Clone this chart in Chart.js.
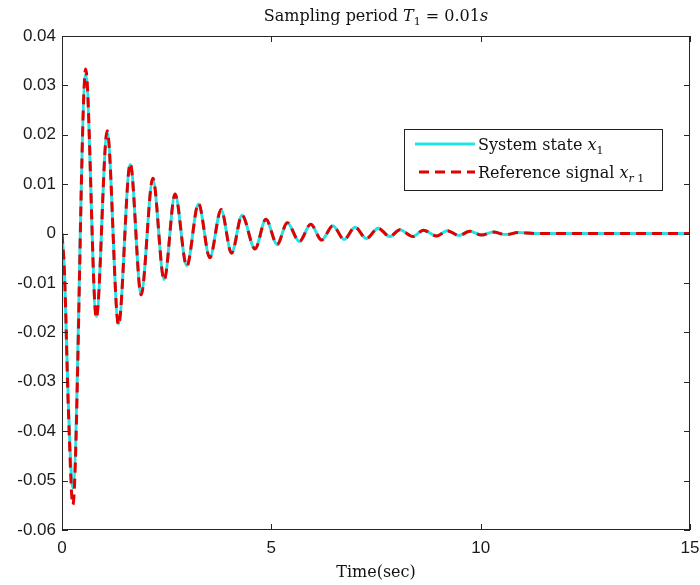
<!DOCTYPE html>
<html>
<head>
<meta charset="utf-8">
<script src="https://cdn.jsdelivr.net/npm/chart.js@4"></script>
<style>
  body { margin: 0; background: #fff; }
  #wrap { width: 700px; height: 585px; }
</style>
</head>
<body>
<div id="wrap"><canvas id="simChart" width="700" height="585"></canvas></div>
<script>
// values (peaks / troughs of the response)
const timeValues = [0, 0.06, 0.15, 0.26, 0.566, 0.82, 1.08, 1.35, 1.63, 1.89, 2.17, 2.44, 2.70, 2.98, 3.26, 3.53, 3.80, 4.05, 4.30, 4.61, 4.87, 5.14, 5.38, 5.67, 5.94, 6.20, 6.47, 6.74, 7.00, 7.27, 7.55, 7.83, 8.07, 8.38, 8.63, 8.95, 9.20, 9.48, 9.74, 10.02, 10.30, 10.60, 10.90, 11.3, 12, 13, 14, 15];
const stateValues = [0, -0.008, -0.034, -0.0515, 0.0322, -0.0168, 0.0204, -0.0182, 0.0140, -0.0122, 0.0110, -0.0093, 0.0079, -0.0065, 0.0060, -0.0048, 0.0048, -0.0039, 0.0037, -0.0031, 0.0029, -0.0022, 0.0022, -0.0016, 0.0019, -0.0013, 0.0016, -0.0012, 0.0013, -0.0010, 0.0011, -0.0006, 0.0008, -0.0006, 0.0007, -0.0005, 0.0006, -0.0004, 0.0005, -0.0003, 0.0003, -0.0002, 0.0002, 0, 0, 0, 0, 0];
const refValues = [0, -0.008, -0.035, -0.0549, 0.0333, -0.0171, 0.0208, -0.0185, 0.0142, -0.0124, 0.0112, -0.0094, 0.0080, -0.0066, 0.0061, -0.0049, 0.0049, -0.0040, 0.0037, -0.0031, 0.0029, -0.0022, 0.0022, -0.0016, 0.0019, -0.0013, 0.0016, -0.0012, 0.0013, -0.0010, 0.0011, -0.0006, 0.0008, -0.0006, 0.0007, -0.0005, 0.0006, -0.0004, 0.0005, -0.0003, 0.0003, -0.0002, 0.0002, 0, 0, 0, 0, 0];

const xTicks = [0, 5, 10, 15];
const yTicks = [0.04, 0.03, 0.02, 0.01, 0, -0.01, -0.02, -0.03, -0.04, -0.05, -0.06];
const yTickLabels = ['0.04', '0.03', '0.02', '0.01', '0', '-0.01', '-0.02', '-0.03', '-0.04', '-0.05', '-0.06'];

const cyan = '#22e3e6';
const red = '#e30000';
const serif = '"DejaVu Serif", "Liberation Serif", serif';
const sans = '"Liberation Sans", Arial, sans-serif';

// draw runs of text: [text, style, size, yOffset]
function drawRuns(ctx, runs, x, y) {
    let cx = x;
    runs.forEach(r => {
        ctx.font = (r[1] || '') + ' ' + r[2] + 'px ' + serif;
        ctx.fillText(r[0], cx, y + (r[3] || 0));
        cx += ctx.measureText(r[0]).width;
    });
    return cx - x;
}
function runsWidth(ctx, runs) {
    let w = 0;
    runs.forEach(r => {
        ctx.font = (r[1] || '') + ' ' + r[2] + 'px ' + serif;
        w += ctx.measureText(r[0]).width;
    });
    return w;
}

const matlabFrame = {
    id: 'matlabFrame',
    afterDraw(chart) {
        const ctx = chart.ctx;
        const a = chart.chartArea;
        const xs = chart.scales.x, ys = chart.scales.y;
        ctx.save();
        ctx.strokeStyle = '#262626';
        ctx.lineWidth = 1;
        ctx.strokeRect(Math.round(a.left) + 0.5, Math.round(a.top) + 0.5, Math.round(a.right - a.left) - 1, Math.round(a.bottom - a.top) - 1);
        // inward ticks
        ctx.beginPath();
        const tl = 6;
        xTicks.forEach(v => {
            const px = Math.round(xs.getPixelForValue(v)) + 0.5;
            ctx.moveTo(px, a.bottom); ctx.lineTo(px, a.bottom - tl);
            ctx.moveTo(px, a.top); ctx.lineTo(px, a.top + tl);
        });
        yTicks.forEach(v => {
            const py = Math.round(ys.getPixelForValue(v)) + 0.5;
            ctx.moveTo(a.left, py); ctx.lineTo(a.left + tl, py);
            ctx.moveTo(a.right, py); ctx.lineTo(a.right - tl, py);
        });
        ctx.stroke();

        // title
        ctx.fillStyle = '#111';
        ctx.textBaseline = 'alphabetic';
        ctx.textAlign = 'left';
        const title = [['Sampling period ', '', 16], ['T', 'italic', 16], ['1', '', 11, 4], [' = 0.01', '', 16], ['s', 'italic', 16]];
        const tw = runsWidth(ctx, title);
        drawRuns(ctx, title, (a.left + a.right) / 2 - tw / 2, 21);

        // legend box
        const bx = a.right - 286, by = 129, bw = 258, bh = 61;
        ctx.fillStyle = '#fff';
        ctx.fillRect(bx, by, bw, bh);
        ctx.strokeStyle = '#222';
        ctx.strokeRect(bx + 0.5, by + 0.5, bw, bh);
        ctx.lineWidth = 3;
        ctx.strokeStyle = cyan;
        ctx.beginPath(); ctx.moveTo(bx + 11, by + 15); ctx.lineTo(bx + 71, by + 15); ctx.stroke();
        ctx.strokeStyle = red;
        ctx.setLineDash([10, 6]);
        ctx.beginPath(); ctx.moveTo(bx + 15, by + 43); ctx.lineTo(bx + 71, by + 43); ctx.stroke();
        ctx.setLineDash([]);
        ctx.fillStyle = '#111';
        drawRuns(ctx, [['System state ', '', 16], ['x', 'italic', 16], ['1', '', 11, 4]], bx + 74, by + 21);
        drawRuns(ctx, [['Reference signal ', '', 16], ['x', 'italic', 16], ['r', 'italic', 11, 4], [' 1', '', 11, 4]], bx + 74, by + 49);
        ctx.restore();
    }
};

new Chart(document.getElementById('simChart'), {
    type: 'line',
    data: {
        datasets: [
            {
                label: 'System state x1',
                data: timeValues.map((t, i) => ({ x: t, y: stateValues[i] })),
                borderColor: cyan,
                borderWidth: 3,
                pointRadius: 0,
                cubicInterpolationMode: 'monotone',
                order: 1
            },
            {
                label: 'Reference signal xr1',
                data: timeValues.map((t, i) => ({ x: t, y: refValues[i] })),
                borderColor: red,
                borderWidth: 3,
                borderDash: [10, 6],
                pointRadius: 0,
                cubicInterpolationMode: 'monotone',
                order: 0
            }
        ]
    },
    options: {
        responsive: false,
        animation: false,
        layout: { padding: { top: 36, right: 0, left: 0, bottom: 0 } },
        scales: {
            x: {
                type: 'linear',
                min: 0,
                max: 15,
                afterBuildTicks: s => { s.ticks = xTicks.map(v => ({ value: v })); },
                afterFit: s => { s.height = 55; s.paddingLeft = 0; s.paddingRight = 10; },
                grid: { display: false, drawTicks: false },
                border: { display: false },
                ticks: { padding: 8, color: '#1a1a1a', font: { family: sans, size: 17 }, maxRotation: 0 },
                title: { display: true, text: 'Time(sec)', color: '#111', font: { family: serif, size: 16 }, padding: { top: 0, bottom: 3 } }
            },
            y: {
                min: -0.06,
                max: 0.04,
                afterBuildTicks: s => { s.ticks = yTicks.map(v => ({ value: v })); },
                afterFit: s => { s.width = 62; },
                grid: { display: false, drawTicks: false },
                border: { display: false },
                ticks: {
                    padding: 6,
                    color: '#1a1a1a',
                    font: { family: sans, size: 17 },
                    callback: (v, i) => yTickLabels[i]
                }
            }
        },
        plugins: {
            legend: { display: false },
            tooltip: { enabled: false }
        }
    },
    plugins: [matlabFrame]
});
</script>
</body>
</html>
